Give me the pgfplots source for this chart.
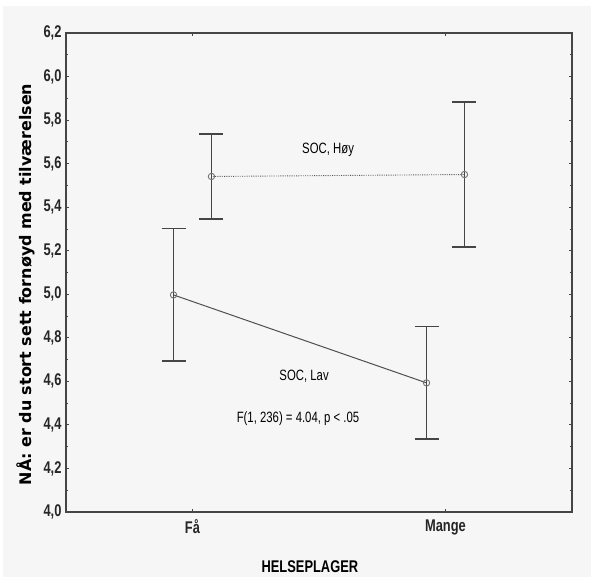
\documentclass[border=0pt]{standalone}
\usepackage{fontspec}
\setmainfont{Liberation Sans}[FakeStretch=0.76]
\newfontfamily\labelfont{DejaVu Sans}
\usepackage{pgfplots}
\pgfplotsset{compat=1.18}

\definecolor{bgc}{HTML}{F6F6F6}
\definecolor{linec}{HTML}{4F4F4F}
\definecolor{axc}{HTML}{454545}

\begin{document}
\begin{tikzpicture}
% page: 591 x 577, axis box from (66,33) to (572,512) in image pixels
\useasboundingbox (-66bp,-65bp) rectangle (525bp,512bp);
\fill[white] (-66bp,-65bp) rectangle (525bp,512bp);
\fill[bgc] (-63bp,-65bp) rectangle (525bp,506bp);
\begin{axis}[
    at={(0,0)}, anchor=south west,
    scale only axis,
    width=506bp, height=479bp,
    xmin=-0.5, xmax=1.5,
    ymin=4.0, ymax=6.2,
    xtick={0,1},
    xticklabels={Få, Mange},
    ytick={4.0,4.2,...,6.21},
    minor y tick num=1,
    tick align=inside,
    xtick pos=both, ytick pos=both,
    xticklabel pos=bottom, yticklabel pos=left,
    major tick length=3bp, minor tick length=2.5bp,
    tick style={axc, line width=0.9bp},
    axis line style={axc, line width=1.3bp},
    /pgf/number format/.cd, use comma, fixed, fixed zerofill, precision=1, assume math mode=true,
    /pgfplots/.cd,
    ticklabel style={font=\fontsize{17}{17}\selectfont\bfseries, text=black!85},
    yticklabel style={xshift=-1bp},
    xticklabel style={yshift=-4bp},
    xlabel={HELSEPLAGER},
    xlabel style={at={(axis description cs:0.482,-0.115)}, anchor=center, font=\fontsize{17}{17}\selectfont\bfseries},
    ylabel={NÅ: er du stort sett fornøyd med tilværelsen},
    ylabel style={at={(axis description cs:-0.080,0.475)}, anchor=center, font=\labelfont\fontsize{16}{16}\selectfont\bfseries},
    clip=false,
]
% SOC, Lav (solid), offset to the left
\addplot[color=linec, line width=1bp, mark=o, mark size=3.2bp,
    mark options={solid, fill=bgc, draw=black!55, line width=0.9bp},
    error bars/.cd, y dir=both, y explicit,
    error bar style={color=axc, line width=1.2bp, solid},
    error mark options={rotate=90, mark size=12bp, line width=1.4bp, axc}]
coordinates {
    (-0.075,4.997) +- (0,0.304)
    (0.925,4.593) +- (0,0.258)
};
% SOC, Høy (dotted), offset to the right
\addplot[color=linec, line width=0.9bp, dash pattern=on 0.7bp off 1.1bp, mark=o, mark size=3.2bp,
    mark options={solid, fill=bgc, draw=black!55, line width=0.9bp},
    error bars/.cd, y dir=both, y explicit,
    error bar style={color=axc, line width=1.2bp, solid},
    error mark options={rotate=90, mark size=12bp, line width=1.4bp, axc}]
coordinates {
    (0.075,5.541) +- (0,0.195)
    (1.075,5.550) +- (0,0.333)
};
\node[font=\fontsize{15}{15}\selectfont] at (axis cs:0.536,5.663) {SOC, Høy};
\node[font=\fontsize{15}{15}\selectfont] at (axis cs:0.441,4.624) {SOC, Lav};
\node[font=\fontsize{15}{15}\selectfont] at (axis cs:0.417,4.427) {F(1, 236) = 4.04, p < .05};
\end{axis}
\end{tikzpicture}
\end{document}
